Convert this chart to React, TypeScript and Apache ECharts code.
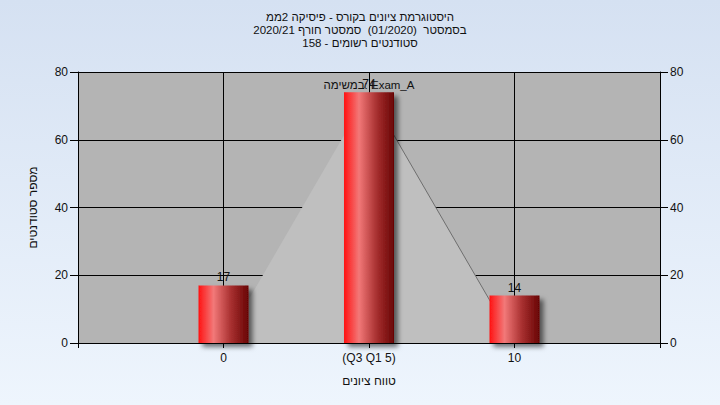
import React, { useEffect, useRef } from "react";
import * as echarts from "echarts";

const titleLines = [
  "היסטוגרמת ציונים בקורס - פיסיקה 2ממ",
  "בסמסטר  (01/2020)  סמסטר חורף 2020/21",
  "סטודנטים רשומים - 158",
];
const categoryLabels = ["", "0", "(Q3 Q1 5)", "10", ""];
const categoryPositions = [1, 2, 3];
const counts = [17, 74, 14];
const areaPoints: [number, number][] = [
  [1, 0],
  [2, 74],
  [3, 0],
];
const yTicks = { min: 0, max: 80, interval: 20 };
const annotation = "במשימה: Exam_A";
const yName = "מספר סטודנטים";
const xName = "טווח ציונים";

const FONT = "Liberation Sans, Arial, sans-serif";

export default function App() {
  const ref = useRef<HTMLDivElement>(null);
  useEffect(() => {
    if (!ref.current) return;
    const chart = echarts.init(ref.current, null, { renderer: "svg" });
    const barGrad = new echarts.graphic.LinearGradient(0, 0, 1, 0, [
      { offset: 0, color: "#ff1212" },
      { offset: 0.3, color: "#f27878" },
      { offset: 0.65, color: "#a83030" },
      { offset: 1, color: "#680404" },
    ]);
    const axisLabel = { color: "#111", fontFamily: FONT, fontSize: 12 };
    chart.setOption({
      animation: false,
      backgroundColor: new echarts.graphic.LinearGradient(0, 0, 0, 1, [
        { offset: 0, color: "#d5e1f2" },
        { offset: 1, color: "#eef5fd" },
      ]),
      graphic: [
        ...titleLines.map((t, i) => ({
          type: "text",
          x: 360,
          y: 17 + i * 13,
          style: {
            text: t,
            fill: "#111",
            font: `11.5px ${FONT}`,
            textAlign: "center",
            textVerticalAlign: "middle",
          },
        })),
        {
          type: "text",
          x: 369,
          y: 85,
          z: 100,
          style: {
            text: annotation,
            fill: "#111",
            font: `11.5px ${FONT}`,
            textAlign: "center",
            textVerticalAlign: "middle",
          },
        },
      ],
      grid: {
        left: 78,
        right: 60,
        top: 72,
        bottom: 62,
        show: true,
        backgroundColor: "#b4b4b4",
        borderWidth: 0,
      },
      xAxis: {
        type: "value",
        min: 0,
        max: 4,
        interval: 1,
        name: xName,
        nameLocation: "middle",
        nameGap: 32,
        nameTextStyle: { color: "#111", fontFamily: FONT, fontSize: 12 },
        axisLine: { show: true, lineStyle: { color: "#000", width: 1 } },
        axisTick: { show: true, length: 5, lineStyle: { color: "#000" } },
        axisLabel: {
          ...axisLabel,
          margin: 9,
          formatter: (v: number) => categoryLabels[Math.round(v)] ?? "",
        },
        splitLine: { show: true, lineStyle: { color: "#000", width: 1 } },
      },
      yAxis: [
        {
          type: "value",
          ...yTicks,
          name: yName,
          nameLocation: "middle",
          nameRotate: 90,
          nameGap: 39,
          nameTextStyle: { color: "#111", fontFamily: FONT, fontSize: 12 },
          axisLine: { show: true, lineStyle: { color: "#000", width: 1 } },
          axisTick: { show: true, length: 8, lineStyle: { color: "#000" } },
          axisLabel: { ...axisLabel, margin: 10 },
          splitLine: { show: true, lineStyle: { color: "#000", width: 1 } },
        },
        {
          type: "value",
          ...yTicks,
          position: "right",
          axisLine: { show: true, lineStyle: { color: "#000", width: 1 } },
          axisTick: { show: true, length: 8, lineStyle: { color: "#000" } },
          axisLabel: { ...axisLabel, margin: 10 },
          splitLine: { show: false },
        },
      ],
      series: [
        {
          type: "line",
          data: areaPoints,
          symbol: "none",
          lineStyle: { width: 0 },
          areaStyle: { color: "#bfbfbf", opacity: 1 },
          z: 3,
          silent: true,
        },
        {
          type: "line",
          data: areaPoints.slice(1),
          symbol: "none",
          lineStyle: { width: 1, color: "#6e6e6e" },
          z: 3,
          silent: true,
        },
        {
          type: "bar",
          data: categoryPositions.map((p, i) => [p, counts[i]]),
          barWidth: 50,
          z: 5,
          itemStyle: {
            color: barGrad,
            shadowColor: "rgba(0,0,0,0.55)",
            shadowBlur: 5,
            shadowOffsetX: 4,
            shadowOffsetY: 4,
          },
          label: {
            show: true,
            position: "top",
            distance: 2,
            color: "#111",
            fontFamily: FONT,
            fontSize: 12,
          },
        },
      ],
    });
    return () => chart.dispose();
  }, []);
  return <div ref={ref} style={{ width: 720, height: 405, position: "absolute", left: 0, top: 0 }} />;
}
